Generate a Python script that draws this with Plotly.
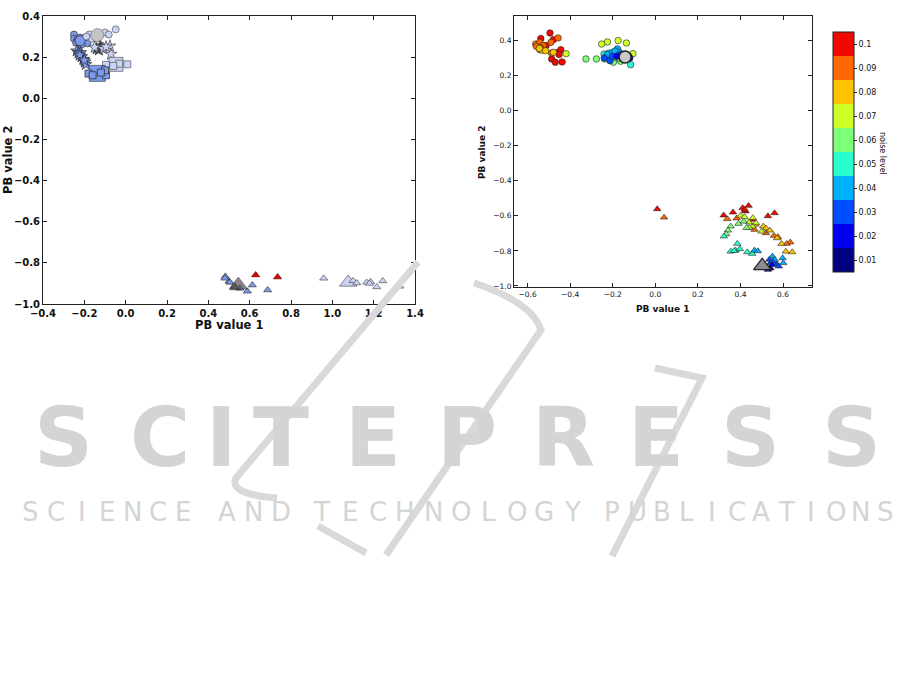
import plotly.graph_objects as go

# ---------------- LEFT PANEL DATA ----------------
circ_med_x = [-0.25, -0.25, -0.234, -0.22, -0.224, -0.205, -0.185, -0.24, -0.213, -0.23]
circ_med_y = [0.31, 0.29, 0.286, 0.295, 0.27, 0.278, 0.267, 0.27, 0.262, 0.28]
circ_light_x = [-0.176, -0.165, -0.10, -0.082, -0.048, -0.19]
circ_light_y = [0.31, 0.29, 0.32, 0.31, 0.335, 0.30]
circ_gray_x = [-0.137]
circ_gray_y = [0.307]

star_med_x = [-0.237, -0.228, -0.218, -0.213, -0.205, -0.197, -0.192, -0.222, -0.2]
star_med_y = [0.23, 0.22, 0.222, 0.202, 0.19, 0.176, 0.165, 0.21, 0.185]
star_dark_x = [-0.14, -0.124, -0.13, -0.115]
star_dark_y = [0.241, 0.25, 0.235, 0.245]
star_light_x = [-0.108, -0.076, -0.071, -0.15, -0.095]
star_light_y = [0.241, 0.254, 0.214, 0.248, 0.25]

sq_med_x = [-0.18, -0.16, -0.095, -0.1, -0.12]
sq_med_y = [0.12, 0.112, 0.112, 0.136, 0.125]
sq_med_big_x = [-0.137]
sq_med_big_y = [0.121]
sq_light_x = [0.008, -0.095, -0.031, -0.06]
sq_light_y = [0.165, 0.162, 0.168, 0.157]
sq_light_big_x = [-0.047]
sq_light_big_y = [0.165]

tri_med_x = [0.482, 0.50, 0.526, 0.553, 0.589, 0.613, 0.687, 0.48, 0.505]
tri_med_y = [-0.866, -0.89, -0.914, -0.924, -0.938, -0.908, -0.932, -0.875, -0.895]
tri_dark_x = [0.53, 0.545]
tri_dark_y = [-0.92, -0.908]
tri_red_x = [0.629, 0.735]
tri_red_y = [-0.859, -0.869]
tri_light_x = [0.958, 1.10, 1.118, 1.166, 1.185, 1.215, 1.244, 1.18, 1.327]
tri_light_y = [-0.875, -0.887, -0.898, -0.895, -0.892, -0.917, -0.888, -0.9, -0.914]
tri_light_big_x = [1.077]
tri_light_big_y = [-0.895]

left_xticks = [-0.4, -0.2, 0.0, 0.2, 0.4, 0.6, 0.8, 1.0, 1.2, 1.4]
left_yticks = [-1.0, -0.8, -0.6, -0.4, -0.2, 0.0, 0.2, 0.4]

# ---------------- RIGHT PANEL DATA ----------------
noise_levels = [0.01, 0.02, 0.03, 0.04, 0.05, 0.06, 0.07, 0.08, 0.09, 0.1]
noise_labels = ["0.01", "0.02", "0.03", "0.04", "0.05", "0.06", "0.07", "0.08", "0.09", "0.1"]
jet10 = ["#000080", "#0000f1", "#004dff", "#00b0ff", "#29ffce",
         "#7dff7a", "#ceff29", "#ffc400", "#ff6800", "#f10800"]

c_x = {
    0.1: [-0.495, -0.538, -0.479, -0.513, -0.457, -0.444, -0.487, -0.47, -0.438, -0.452],
    0.09: [-0.562, -0.543, -0.559, -0.49, -0.457, -0.543, -0.527, -0.488, -0.54],
    0.08: [-0.53, -0.516, -0.479, -0.545],
    0.07: [-0.419, -0.252, -0.225, -0.175, -0.136, -0.105],
    0.06: [-0.326, -0.277, -0.238, -0.197, -0.163, -0.186, -0.17],
    0.05: [-0.241, -0.218, -0.116, -0.194, -0.15, -0.23],
    0.04: [-0.178, -0.205, -0.169, -0.225, -0.19],
    0.03: [-0.213, -0.202, -0.163, -0.24],
    0.02: [-0.182, -0.13, -0.12],
    0.01: [-0.125],
}
c_y = {
    0.1: [0.443, 0.411, 0.405, 0.371, 0.333, 0.348, 0.295, 0.276, 0.278, 0.32],
    0.09: [0.38, 0.39, 0.367, 0.39, 0.415, 0.348, 0.371, 0.329, 0.36],
    0.08: [0.344, 0.342, 0.333, 0.355],
    0.07: [0.325, 0.38, 0.392, 0.4, 0.386, 0.325],
    0.06: [0.295, 0.295, 0.295, 0.276, 0.282, 0.304, 0.3],
    0.05: [0.323, 0.329, 0.262, 0.329, 0.315, 0.31],
    0.04: [0.352, 0.329, 0.333, 0.32, 0.34],
    0.03: [0.285, 0.31, 0.32, 0.30],
    0.02: [0.31, 0.315, 0.3],
    0.01: [0.31],
}
t_x = {
    0.1: [0.009, 0.321, 0.365, 0.41, 0.438, 0.423, 0.529, 0.56, 0.455, 0.42],
    0.09: [0.041, 0.338, 0.382, 0.466, 0.52, 0.557, 0.576, 0.634, 0.617],
    0.08: [0.507, 0.52, 0.538, 0.572, 0.593, 0.643, 0.613, 0.47],
    0.07: [0.40, 0.419, 0.44, 0.458, 0.457, 0.473, 0.499, 0.441],
    0.06: [0.391, 0.416, 0.429, 0.354, 0.341, 0.333],
    0.05: [0.322, 0.385, 0.354, 0.377, 0.397, 0.432, 0.455, 0.37],
    0.04: [0.466, 0.482, 0.55, 0.598, 0.601, 0.561],
    0.03: [0.535, 0.541, 0.57, 0.58, 0.55],
    0.02: [0.529, 0.541, 0.548],
    0.01: [0.536],
}
t_y = {
    0.1: [-0.561, -0.597, -0.58, -0.555, -0.542, -0.574, -0.601, -0.584, -0.622, -0.565],
    0.09: [-0.609, -0.618, -0.614, -0.679, -0.698, -0.713, -0.721, -0.751, -0.759],
    0.08: [-0.66, -0.671, -0.683, -0.727, -0.759, -0.807, -0.803, -0.65],
    0.07: [-0.599, -0.607, -0.637, -0.612, -0.66, -0.641, -0.689, -0.668],
    0.06: [-0.645, -0.632, -0.668, -0.66, -0.683, -0.704],
    0.05: [-0.717, -0.759, -0.803, -0.797, -0.789, -0.807, -0.816, -0.8],
    0.04: [-0.797, -0.801, -0.831, -0.841, -0.869, -0.85],
    0.03: [-0.85, -0.869, -0.875, -0.888, -0.86],
    0.02: [-0.907, -0.898, -0.88],
    0.01: [-0.9],
}
ref_circle_x = [-0.142]
ref_circle_y = [0.306]
ref_tri_x = [0.502]
ref_tri_y = [-0.885]

right_xticks = [-0.6, -0.4, -0.2, 0.0, 0.2, 0.4, 0.6]
right_yticks = [-1.0, -0.8, -0.6, -0.4, -0.2, 0.0, 0.2, 0.4]

# ---------------- FIGURE ----------------
W, H = 915, 696
FONT = "DejaVu Sans"

LIGHT = "#c9d3f6"
MED = "#7d9bee"
DARK = "#555555"
GRAY = "#c4c4c4"
RED = "#e00000"
EDGE = "#333333"

fig = go.Figure()


def sc(x, y, symbol, size, color, axis="1", lw=0.7, lc=EDGE):
    fig.add_trace(go.Scatter(
        x=x, y=y, mode="markers", showlegend=False, hoverinfo="skip",
        xaxis="x" if axis == "1" else "x2", yaxis="y" if axis == "1" else "y2",
        marker=dict(symbol=symbol, size=size, color=color,
                    line=dict(width=lw, color=lc))))


# left panel
sc(circ_med_x, circ_med_y, "circle", 7, MED)
sc([-0.22], [0.28], "circle", 10, MED)
sc(circ_light_x, circ_light_y, "circle", 7, LIGHT, lc="#555")
sc(circ_gray_x, circ_gray_y, "circle", 13, GRAY, lc="#777")
sc(star_med_x, star_med_y, "star", 9, MED, lc="#222")
sc(star_dark_x, star_dark_y, "star", 9, DARK, lc="#222")
sc(star_light_x, star_light_y, "star", 9, LIGHT, lc="#444")
sc(sq_light_big_x, sq_light_big_y, "square", 14, LIGHT, lc="#555")
sc(sq_light_x, sq_light_y, "square", 7, LIGHT, lc="#555")
sc(sq_med_big_x, sq_med_big_y, "square", 16, MED, lc="#445")
sc(sq_med_x, sq_med_y, "square", 7, MED, lc="#222")
sc(tri_light_big_x, tri_light_big_y, "triangle-up", 15, LIGHT, lc="#555")
sc(tri_light_x, tri_light_y, "triangle-up", 7, LIGHT, lc="#555")
sc(tri_med_x, tri_med_y, "triangle-up", 7, MED)
sc(tri_dark_x, tri_dark_y, "triangle-up", [9, 16], DARK, lc="#222")
sc(tri_red_x, tri_red_y, "triangle-up", 7, RED, lc="#600")

# right panel: colour from noise level through a discrete jet colour scale
cscale = []
for i, col in enumerate(jet10):
    cscale.append([i / 10, col])
    cscale.append([(i + 1) / 10, col])

order = [0.1, 0.09, 0.08, 0.07, 0.06, 0.05, 0.04, 0.03, 0.02, 0.01]
cx, cy, cc, tx, ty, tc = [], [], [], [], [], []
for lv in order:
    cx += c_x[lv]; cy += c_y[lv]; cc += [lv] * len(c_x[lv])
    tx += t_x[lv]; ty += t_y[lv]; tc += [lv] * len(t_x[lv])

fig.add_trace(go.Scatter(
    x=cx, y=cy, mode="markers", xaxis="x2", yaxis="y2", showlegend=False,
    hoverinfo="skip",
    marker=dict(symbol="circle", size=6.5, color=cc, colorscale=cscale,
                cmin=0.005, cmax=0.105, line=dict(width=0.6, color="#222"),
                showscale=True,
                colorbar=dict(
                    thickness=21, thicknessmode="pixels",
                    len=240 / H, lenmode="fraction",
                    x=833 / W, xanchor="left", xref="paper",
                    y=1 - 32 / H, yanchor="top", yref="paper",
                    outlinecolor="#222", outlinewidth=1,
                    tickvals=noise_levels, ticktext=noise_labels,
                    ticks="outside", ticklen=3, tickcolor="#222",
                    tickfont=dict(family=FONT, size=8, color="#111"),
                    ypad=0, xpad=0))))
fig.add_trace(go.Scatter(
    x=tx, y=ty, mode="markers", xaxis="x2", yaxis="y2", showlegend=False,
    hoverinfo="skip",
    marker=dict(symbol="triangle-up", size=6.5, color=tc, colorscale=cscale,
                cmin=0.005, cmax=0.105, line=dict(width=0.6, color="#222"))))
sc(ref_circle_x, ref_circle_y, "circle", 12, "#c8c8c8", axis="2", lw=1.5, lc="#222")
sc(ref_tri_x, ref_tri_y, "triangle-up", 15, "#8c8c8c", axis="2", lw=1.2, lc="#222")

# ---------------- AXES ----------------
def ax_common(ticks, rng, dom, size, weight, anchor):
    return dict(range=rng, domain=dom, tickvals=ticks, tickformat=".1f",
                showgrid=False, zeroline=False, showline=True, automargin=False,
                linecolor="#222", linewidth=1, mirror="ticks",
                ticks="inside", ticklen=4, tickcolor="#222",
                tickfont=dict(family=FONT, size=size, color="#111", weight=weight),
                anchor=anchor)


fig.update_layout(
    template="none",
    width=W, height=H, margin=dict(l=0, r=0, t=0, b=0, pad=0, autoexpand=False),
    paper_bgcolor="white", plot_bgcolor="white",
    font=dict(family=FONT, color="#111"),
    hovermode=False,
    xaxis=ax_common(left_xticks, [-0.4, 1.4], [43 / W, 415 / W], 10, "bold", "y"),
    yaxis=ax_common(left_yticks, [-1.0, 0.4], [1 - 304 / H, 1 - 16 / H], 10, "bold", "x"),
    xaxis2=ax_common(right_xticks, [-0.664, 0.736], [514 / W, 812 / W], 7.5, "normal", "y2"),
    yaxis2=ax_common(right_yticks, [-1.006, 0.54], [1 - 287 / H, 1 - 16 / H], 7.5, "normal", "x2"),
)

ann = [
    dict(text="PB value 1", x=229 / W, y=1 - 325 / H, font=dict(size=11.5, weight="bold")),
    dict(text="PB value 2", x=8 / W, y=1 - 160 / H, textangle=-90, font=dict(size=11.5, weight="bold")),
    dict(text="PB value 1", x=663 / W, y=1 - 309 / H, font=dict(size=9, weight="bold")),
    dict(text="PB value 2", x=482 / W, y=1 - 152 / H, textangle=-90, font=dict(size=9, weight="bold")),
    dict(text="noise level", x=883 / W, y=1 - 153 / H, textangle=90, font=dict(size=8)),
]

# ---------------- WATERMARK ----------------
WM = "#d4d4d4"
big_letters = list("SCITEPRESS")
big_centers = [63, 160, 221, 281, 373, 467, 563, 656, 750, 851]
for ch, cxp in zip(big_letters, big_centers):
    ann.append(dict(text=ch, x=cxp / W, y=1 - 437 / H,
                    font=dict(size=82, weight="bold", color=WM)))

words = [("SCIENCE", 18, 196), ("AND", 213, 294), ("TECHNOLOGY", 308, 586),
         ("PUBLICATIONS", 600, 898)]
for word, x0, x1 in words:
    n = len(word)
    step = (x1 - x0) / n
    for i, ch in enumerate(word):
        ann.append(dict(text=ch, x=(x0 + (i + 0.5) * step) / W, y=1 - 512 / H,
                        font=dict(size=26, color=WM)))

for a in ann:
    a.setdefault("xref", "paper")
    a.setdefault("yref", "paper")
    a.setdefault("showarrow", False)
    a.setdefault("xanchor", "center")
    a.setdefault("yanchor", "middle")
    f = a["font"]
    f.setdefault("family", FONT)
    f.setdefault("color", "#111")
fig.update_layout(annotations=ann)


def P(x, y):
    return f"{x / W:.4f},{1 - y / H:.4f}"


strokes = [
    f"M{P(418, 262)} L{P(236, 478)} Q{P(228, 494)} {P(277, 498)}",
    f"M{P(474, 283)} Q{P(532, 302)} {P(541, 330)} L{P(386, 555)}",
    f"M{P(318, 526)} L{P(366, 553)}",
    f"M{P(655, 368)} L{P(702, 378)} L{P(612, 556)}",
]
fig.update_layout(shapes=[dict(type="path", path=s, xref="paper", yref="paper",
                               line=dict(color="#d9d9d9", width=7), layer="above")
                          for s in strokes])

# the page's default 8px body margin would shift the figure; remove it
fig.write_html("out.html", config={"displayModeBar": False},
               post_script="document.body.style.margin='0';document.body.style.overflow='hidden';")
